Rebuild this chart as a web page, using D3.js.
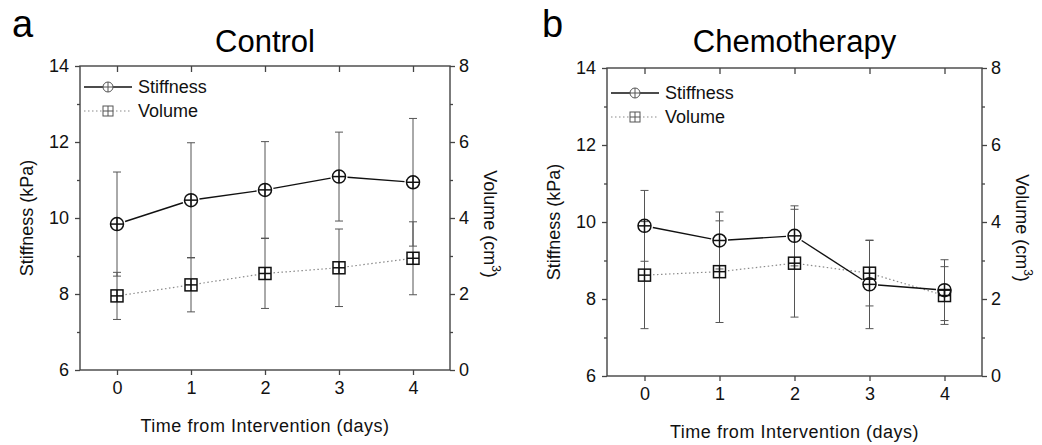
<!DOCTYPE html>
<html>
<head>
<meta charset="utf-8">
<script src="https://cdnjs.cloudflare.com/ajax/libs/d3/7.8.5/d3.min.js"></script>
<style>
  html, body { margin: 0; padding: 0; background: #fff; }
  svg { display: block; font-family: "Liberation Sans", Arial, sans-serif; }
</style>
</head>
<body>
<svg id="chart" width="1042" height="445"></svg>
<script>
// ---- data ----
const days = [0, 1, 2, 3, 4];
const xTicks = [0, 1, 2, 3, 4];
const stiffTicks = [6, 8, 10, 12, 14];
const volTicks = [0, 2, 4, 6, 8];

const controlStiffness   = [9.84, 10.47, 10.74, 11.09, 10.94];
const controlStiffnessSD = [1.37, 1.51, 1.27, 1.17, 1.68];
const controlVolume      = [1.95, 2.24, 2.54, 2.69, 2.94];
const controlVolumeSD    = [0.62, 0.71, 0.92, 1.02, 0.96];

const chemoStiffness   = [9.90, 9.52, 9.64, 8.38, 8.23];
const chemoStiffnessSD = [0.92, 0.74, 0.78, 1.15, 0.79];
const chemoVolume      = [2.62, 2.71, 2.93, 2.67, 2.09];
const chemoVolumeSD    = [1.39, 1.32, 1.40, 0.85, 0.75];

const panelTitles = ["Control", "Chemotherapy"];
const panelLetters = ["a", "b"];
const legendLabels = ["Stiffness", "Volume"];
const xTitle = "Time from Intervention (days)";
const yTitle = "Stiffness (kPa)";

// ---- drawing ----
const svg = d3.select("#chart");
const AX = "#444";

function drawPanel(p) {
  const g = svg.append("g");
  const x = d3.scaleLinear().domain([-0.5, 4.5]).range([p.left, p.right]);
  const yS = d3.scaleLinear().domain([6, 14]).range([p.bottom, p.top]);
  const yV = d3.scaleLinear().domain([0, 8]).range([p.bottom, p.top]);

  // frame
  g.append("rect").attr("x", p.left).attr("y", p.top)
    .attr("width", p.right - p.left).attr("height", p.bottom - p.top)
    .attr("fill", "none").attr("stroke", AX).attr("stroke-width", 1.4);

  const styleAxis = (sel) => {
    sel.select(".domain").remove();
    sel.selectAll("line").attr("stroke", AX).attr("stroke-width", 1.3);
    sel.selectAll("text").attr("fill", "#111").style("font-size", "18px")
      .style("font-family", "'Liberation Sans', Arial, sans-serif");
  };

  // bottom axis
  g.append("g").attr("transform", `translate(0,${p.bottom})`)
    .call(d3.axisBottom(x).tickValues(xTicks).tickFormat(d3.format("d")).tickSize(5).tickPadding(6))
    .call(styleAxis);
  // top mirrored ticks (inward)
  g.append("g").attr("transform", `translate(0,${p.top})`)
    .call(d3.axisBottom(x).tickValues(xTicks).tickFormat("").tickSize(6))
    .call(styleAxis);
  // left axis
  g.append("g").attr("transform", `translate(${p.left},0)`)
    .call(d3.axisLeft(yS).tickValues(stiffTicks).tickSize(5).tickPadding(6))
    .call(styleAxis);
  g.append("g").attr("transform", `translate(${p.left},0)`)
    .call(d3.axisLeft(yS).tickValues([7, 9, 11, 13]).tickFormat("").tickSize(3))
    .call(styleAxis);
  // right axis
  g.append("g").attr("transform", `translate(${p.right},0)`)
    .call(d3.axisRight(yV).tickValues(volTicks).tickSize(5).tickPadding(4))
    .call(styleAxis);
  g.append("g").attr("transform", `translate(${p.right},0)`)
    .call(d3.axisRight(yV).tickValues([1, 3, 5, 7]).tickFormat("").tickSize(3))
    .call(styleAxis);

  // titles
  g.append("text").attr("x", (p.left + p.right) / 2).attr("y", 52)
    .attr("text-anchor", "middle").style("font-size", "31px").attr("fill", "#000")
    .text(p.title);
  g.append("text").attr("x", p.letterX).attr("y", 37)
    .style("font-size", "38px").attr("fill", "#000").text(p.letter);
  g.append("text").attr("x", (p.left + p.right) / 2).attr("y", p.bottom + 62)
    .attr("text-anchor", "middle").style("font-size", "18px").style("letter-spacing", "0.5px")
    .attr("fill", "#111").text(xTitle);
  g.append("text")
    .attr("transform", `translate(${p.left - 47},${(p.top + p.bottom) / 2}) rotate(-90)`)
    .attr("text-anchor", "middle").style("font-size", "18px").attr("fill", "#111")
    .text(yTitle);
  const vt = g.append("text")
    .attr("transform", `translate(${p.right + 34},${(p.top + p.bottom) / 2 + 6}) rotate(90)`)
    .attr("text-anchor", "middle").style("font-size", "18px").attr("fill", "#111");
  vt.append("tspan").text("Volume (cm");
  vt.append("tspan").attr("dy", -8).style("font-size", "12px").text("3");
  vt.append("tspan").attr("dy", 8).text(")");

  const stiff = days.map((d, i) => ({ x: x(d), y: yS(p.stiff[i]), lo: yS(p.stiff[i] - p.stiffSD[i]), hi: yS(p.stiff[i] + p.stiffSD[i]) }));
  const vol = days.map((d, i) => ({ x: x(d), y: yV(p.vol[i]), lo: yV(p.vol[i] - p.volSD[i]), hi: yV(p.vol[i] + p.volSD[i]) }));

  // error bars
  const drawErr = (pts) => {
    pts.forEach(pt => {
      g.append("line").attr("x1", pt.x).attr("x2", pt.x).attr("y1", pt.lo).attr("y2", pt.hi)
        .attr("stroke", "#555").attr("stroke-width", 1);
      [pt.lo, pt.hi].forEach(yy => g.append("line").attr("x1", pt.x - 4).attr("x2", pt.x + 4)
        .attr("y1", yy).attr("y2", yy).attr("stroke", "#555").attr("stroke-width", 1));
    });
  };
  drawErr(vol);
  drawErr(stiff);

  // connecting lines with gaps at symbols
  const drawConn = (pts, gap, stroke, width, dash) => {
    for (let i = 0; i < pts.length - 1; i++) {
      const a = pts[i], b = pts[i + 1];
      const dx = b.x - a.x, dy = b.y - a.y, L = Math.hypot(dx, dy);
      if (L <= 2 * gap) continue;
      const ux = dx / L, uy = dy / L;
      g.append("line").attr("x1", a.x + ux * gap).attr("y1", a.y + uy * gap)
        .attr("x2", b.x - ux * gap).attr("y2", b.y - uy * gap)
        .attr("stroke", stroke).attr("stroke-width", width)
        .attr("stroke-dasharray", dash);
    }
  };
  drawConn(vol, 8.5, "#8a8a8a", 1.2, "1.5,2.5");
  drawConn(stiff, 8.5, "#111", 1.4, null);

  // symbols
  const circ = (cx, cy, r, col, w) => {
    g.append("circle").attr("cx", cx).attr("cy", cy).attr("r", r)
      .attr("fill", "none").attr("stroke", col).attr("stroke-width", w);
    g.append("line").attr("x1", cx - r).attr("x2", cx + r).attr("y1", cy).attr("y2", cy).attr("stroke", col).attr("stroke-width", w);
    g.append("line").attr("x1", cx).attr("x2", cx).attr("y1", cy - r).attr("y2", cy + r).attr("stroke", col).attr("stroke-width", w);
  };
  const sq = (cx, cy, h, col, w) => {
    g.append("rect").attr("x", cx - h).attr("y", cy - h).attr("width", 2 * h).attr("height", 2 * h)
      .attr("fill", "none").attr("stroke", col).attr("stroke-width", w);
    g.append("line").attr("x1", cx - h).attr("x2", cx + h).attr("y1", cy).attr("y2", cy).attr("stroke", col).attr("stroke-width", w);
    g.append("line").attr("x1", cx).attr("x2", cx).attr("y1", cy - h).attr("y2", cy + h).attr("stroke", col).attr("stroke-width", w);
  };
  vol.forEach(pt => sq(pt.x, pt.y, 6, "#111", 1.5));
  stiff.forEach(pt => circ(pt.x, pt.y, 6.5, "#111", 1.5));

  // legend
  const lx = p.left + 4, ly1 = p.top + p.legDy, ly2 = ly1 + 24;
  g.append("line").attr("x1", lx).attr("x2", lx + 48).attr("y1", ly1).attr("y2", ly1)
    .attr("stroke", "#111").attr("stroke-width", 1.3);
  g.append("circle").attr("cx", lx + 24).attr("cy", ly1).attr("r", 5).attr("fill", "#fff").attr("stroke", "#555").attr("stroke-width", 1);
  g.append("line").attr("x1", lx + 19).attr("x2", lx + 29).attr("y1", ly1).attr("y2", ly1).attr("stroke", "#555");
  g.append("line").attr("x1", lx + 24).attr("x2", lx + 24).attr("y1", ly1 - 5).attr("y2", ly1 + 5).attr("stroke", "#555");
  g.append("text").attr("x", lx + 54).attr("y", ly1 + 6).style("font-size", "18px").attr("fill", "#111").text(legendLabels[0]);

  g.append("line").attr("x1", lx).attr("x2", lx + 48).attr("y1", ly2).attr("y2", ly2)
    .attr("stroke", "#8a8a8a").attr("stroke-width", 1.2).attr("stroke-dasharray", "1.5,2.5");
  g.append("rect").attr("x", lx + 19).attr("y", ly2 - 5).attr("width", 10).attr("height", 10).attr("fill", "#fff").attr("stroke", "#555").attr("stroke-width", 1);
  g.append("line").attr("x1", lx + 19).attr("x2", lx + 29).attr("y1", ly2).attr("y2", ly2).attr("stroke", "#555");
  g.append("line").attr("x1", lx + 24).attr("x2", lx + 24).attr("y1", ly2 - 5).attr("y2", ly2 + 5).attr("stroke", "#555");
  g.append("text").attr("x", lx + 54).attr("y", ly2 + 6).style("font-size", "18px").attr("fill", "#111").text(legendLabels[1]);
}

drawPanel({ left: 80, right: 450, top: 66, bottom: 370, legDy: 21, letterX: 12,
  title: panelTitles[0], letter: panelLetters[0],
  stiff: controlStiffness, stiffSD: controlStiffnessSD, vol: controlVolume, volSD: controlVolumeSD });
drawPanel({ left: 607, right: 982, top: 68, bottom: 376, legDy: 25, letterX: 542,
  title: panelTitles[1], letter: panelLetters[1],
  stiff: chemoStiffness, stiffSD: chemoStiffnessSD, vol: chemoVolume, volSD: chemoVolumeSD });
</script>
</body>
</html>
